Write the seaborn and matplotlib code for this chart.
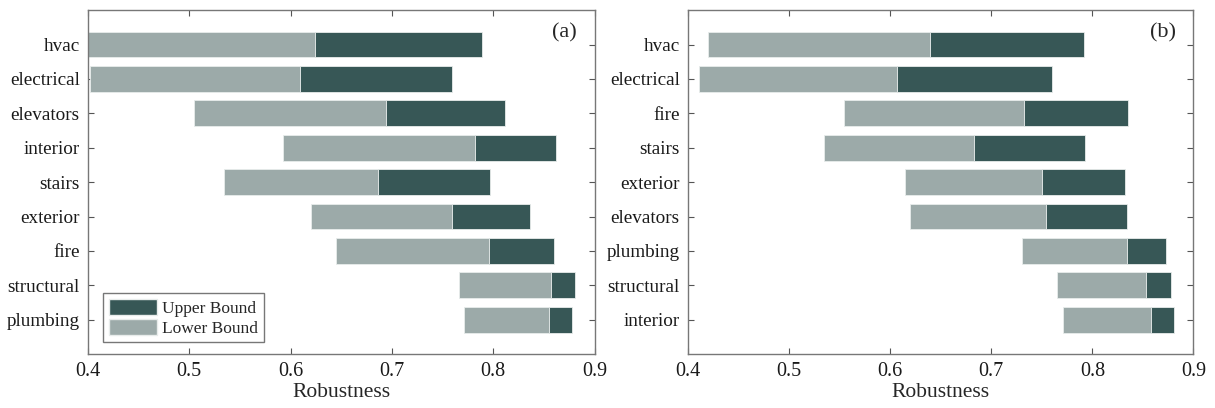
import matplotlib
matplotlib.use("Agg")
import matplotlib.pyplot as plt
import seaborn as sns
import pandas as pd
from matplotlib.patches import Patch

# data: start / mid / end of each bar
cats_a = ["hvac", "electrical", "elevators", "interior", "stairs", "exterior", "fire", "structural", "plumbing"]
start_a = [0.400, 0.402, 0.505, 0.592, 0.534, 0.620, 0.645, 0.766, 0.771]
mid_a = [0.624, 0.609, 0.694, 0.782, 0.686, 0.759, 0.796, 0.857, 0.855]
end_a = [0.789, 0.759, 0.812, 0.862, 0.797, 0.836, 0.860, 0.881, 0.878]

cats_b = ["hvac", "electrical", "fire", "stairs", "exterior", "elevators", "plumbing", "structural", "interior"]
start_b = [0.420, 0.411, 0.554, 0.534, 0.615, 0.620, 0.730, 0.765, 0.771]
mid_b = [0.639, 0.607, 0.732, 0.683, 0.750, 0.754, 0.834, 0.853, 0.858]
end_b = [0.792, 0.760, 0.835, 0.793, 0.832, 0.834, 0.873, 0.878, 0.881]

xticks = [0.4, 0.5, 0.6, 0.7, 0.8, 0.9]
dark = "#375756"
light = "#9caaa9"

sns.set_style("ticks")
plt.rcParams['font.family'] = ['Liberation Serif', 'DejaVu Serif']
plt.rcParams['font.size'] = 13.5

fig = plt.figure(figsize=(12.15, 4.08), dpi=100)
ax_a = fig.add_axes([0.0724, 0.132, 0.417, 0.843])
ax_b = fig.add_axes([0.5663, 0.132, 0.416, 0.843])


def draw(ax, cats, start, mid, end, tag):
    df = pd.DataFrame({"cat": cats, "start": start, "mid": mid, "end": end})
    df["low"] = df["mid"] - df["start"]
    df["up"] = df["end"] - df["mid"]
    # lower bound part
    sns.barplot(data=df, x="low", y="cat", orient="h", color=light, width=0.75,
                left=df["start"].values, edgecolor="#e8eceb", linewidth=0.6,
                saturation=1, ax=ax)
    # upper bound part
    sns.barplot(data=df, x="up", y="cat", orient="h", color=dark, width=0.75,
                left=df["mid"].values, edgecolor="#e8eceb", linewidth=0.6,
                saturation=1, ax=ax)
    ax.set_xlim(0.4, 0.9)
    ax.set_ylim(len(cats), -1)
    ax.set_xticks(xticks)
    ax.set_xticklabels([str(t) for t in xticks])
    ax.set_xlabel("Robustness", fontsize=15.5, labelpad=1)
    ax.set_ylabel("")
    ax.tick_params(direction="in", top=True, right=True, length=4, width=0.8,
                   colors="#555555", labelcolor="#1a1a1a", pad=6)
    ax.tick_params(axis="x", labelsize=14.5)
    ax.tick_params(axis="y", labelsize=13.8)
    for s in ax.spines.values():
        s.set_visible(True)
        s.set_color("#777777")
        s.set_linewidth(1.0)
    ax.text(0.94, 0.935, tag, transform=ax.transAxes, fontsize=16, ha="center", va="center")


draw(ax_a, cats_a, start_a, mid_a, end_a, "(a)")
draw(ax_b, cats_b, start_b, mid_b, end_b, "(b)")

handles = [Patch(facecolor=dark, edgecolor="#e8eceb"), Patch(facecolor=light, edgecolor="#e8eceb")]
leg = ax_a.legend(handles, ["Upper Bound", "Lower Bound"], loc="lower left",
                  bbox_to_anchor=(0.02, 0.02), fontsize=12.5, frameon=True, fancybox=False,
                  handlelength=2.8, handleheight=1.1, handletextpad=0.3, borderpad=0.3,
                  labelspacing=0.1, borderaxespad=0.3)
leg.get_frame().set_edgecolor("#555555")
leg.get_frame().set_linewidth(1.0)

fig.savefig("out.png", dpi=100)
